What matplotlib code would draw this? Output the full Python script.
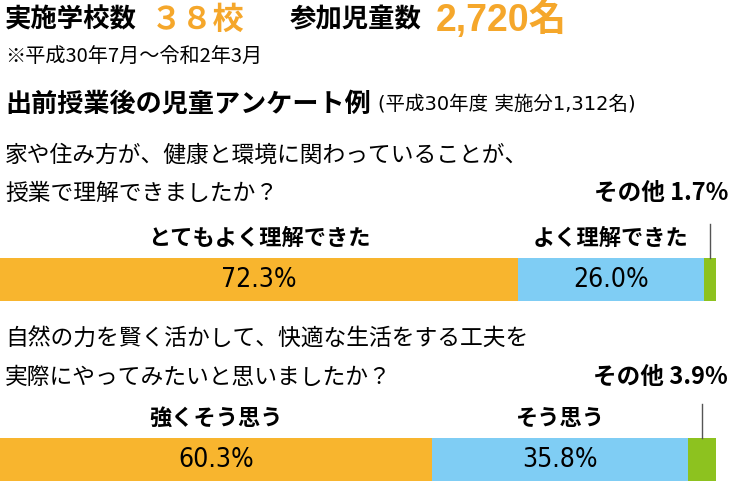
import numpy as np
import matplotlib
matplotlib.use("Agg")
import matplotlib.pyplot as plt

plt.rcParams['font.family'] = ['Noto Sans CJK JP', 'DejaVu Sans']

# colours
c_orange = '#F8B52E'
c_blue = '#7FCDF4'
c_green = '#8DC21F'
c_title = '#F5A72B'

# data
q1_lines = ['家や住み方が、健康と環境に関わっていることが、', '授業で理解できましたか？']
q1_labels = ['とてもよく理解できた', 'よく理解できた', 'その他']
q1_values = [72.3, 26.0, 1.7]

q2_lines = ['自然の力を賢く活かして、快適な生活をする工夫を', '実際にやってみたいと思いましたか？']
q2_labels = ['強くそう思う', 'そう思う', 'その他']
q2_values = [60.3, 35.8, 3.9]

W, H = 736, 483
fig = plt.figure(figsize=(W / 100, H / 100), dpi=100)

narrow = dict(family=['DejaVu Sans', 'Noto Sans CJK JP'], fontstretch='condensed')
latin_bold = ['Liberation Sans', 'Noto Sans CJK JP']


def ftext(x, y, s, **kw):
    # pixel coords (from top-left) -> figure fraction
    return fig.text(x / W, 1 - y / H, s, **kw)


# header
ftext(5, 20, '実施学校数', fontsize=19, fontweight='bold', va='center')
ftext(151, 20, '３８校', fontsize=22.5, fontweight='bold', color=c_title, va='center')
ftext(290, 20, '参加児童数', fontsize=19, fontweight='bold', va='center')
ftext(436, 20, '2,720名', fontsize=27, fontweight='bold', color=c_title, va='center',
      family=latin_bold)
ftext(5, 56, '※平成30年7月～令和2年3月', fontsize=14.5, va='center')

ftext(5, 104, '出前授業後の児童アンケート例', fontsize=18.8, fontweight='bold', va='center')
ftext(378, 104, '(平成30年度 実施分1,312名)', fontsize=14, va='center',
      family=['DejaVu Sans', 'Noto Sans CJK JP'])


def survey(y_q, y_bar, lines, labels, values):
    # question text
    for i, s in enumerate(lines):
        ftext(5, y_q + i * 38, s, fontsize=16.4, va='center')

    # bar axes: y_bar = top pixel of bar
    bh = 43
    ax = fig.add_axes([0, 1 - (y_bar + bh) / H, 716 / W, bh / H])
    ax.set_xlim(0, sum(values))
    ax.set_ylim(0, 1)
    ax.axis('off')
    left = np.cumsum([0] + values[:-1])
    cols = [c_orange, c_blue, c_green]
    ax.barh(0.5, values, left=left, height=1, color=cols, edgecolor='none')
    for i in range(2):
        xc = left[i] + values[i] / 2
        ax.text(xc, 0.48, f'{values[i]:.1f}%', ha='center', va='center', fontsize=19,
                **narrow)
        ax.text(xc, 1.45, labels[i], ha='center', va='center', fontsize=16,
                fontweight='bold')
    # callout for the small segment
    xo = left[2] + values[2] / 2
    ax.plot([xo, xo], [1.0, 1.8], color='#555555', lw=1, clip_on=False)
    ftext(728, y_q + 38, f'{labels[2]} {values[2]:.1f}%', fontsize=17,
          fontweight='bold', ha='right', va='center')


survey(155, 258, q1_lines, q1_labels, q1_values)
survey(339, 438, q2_lines, q2_labels, q2_values)

fig.savefig('out.png', dpi=100)
